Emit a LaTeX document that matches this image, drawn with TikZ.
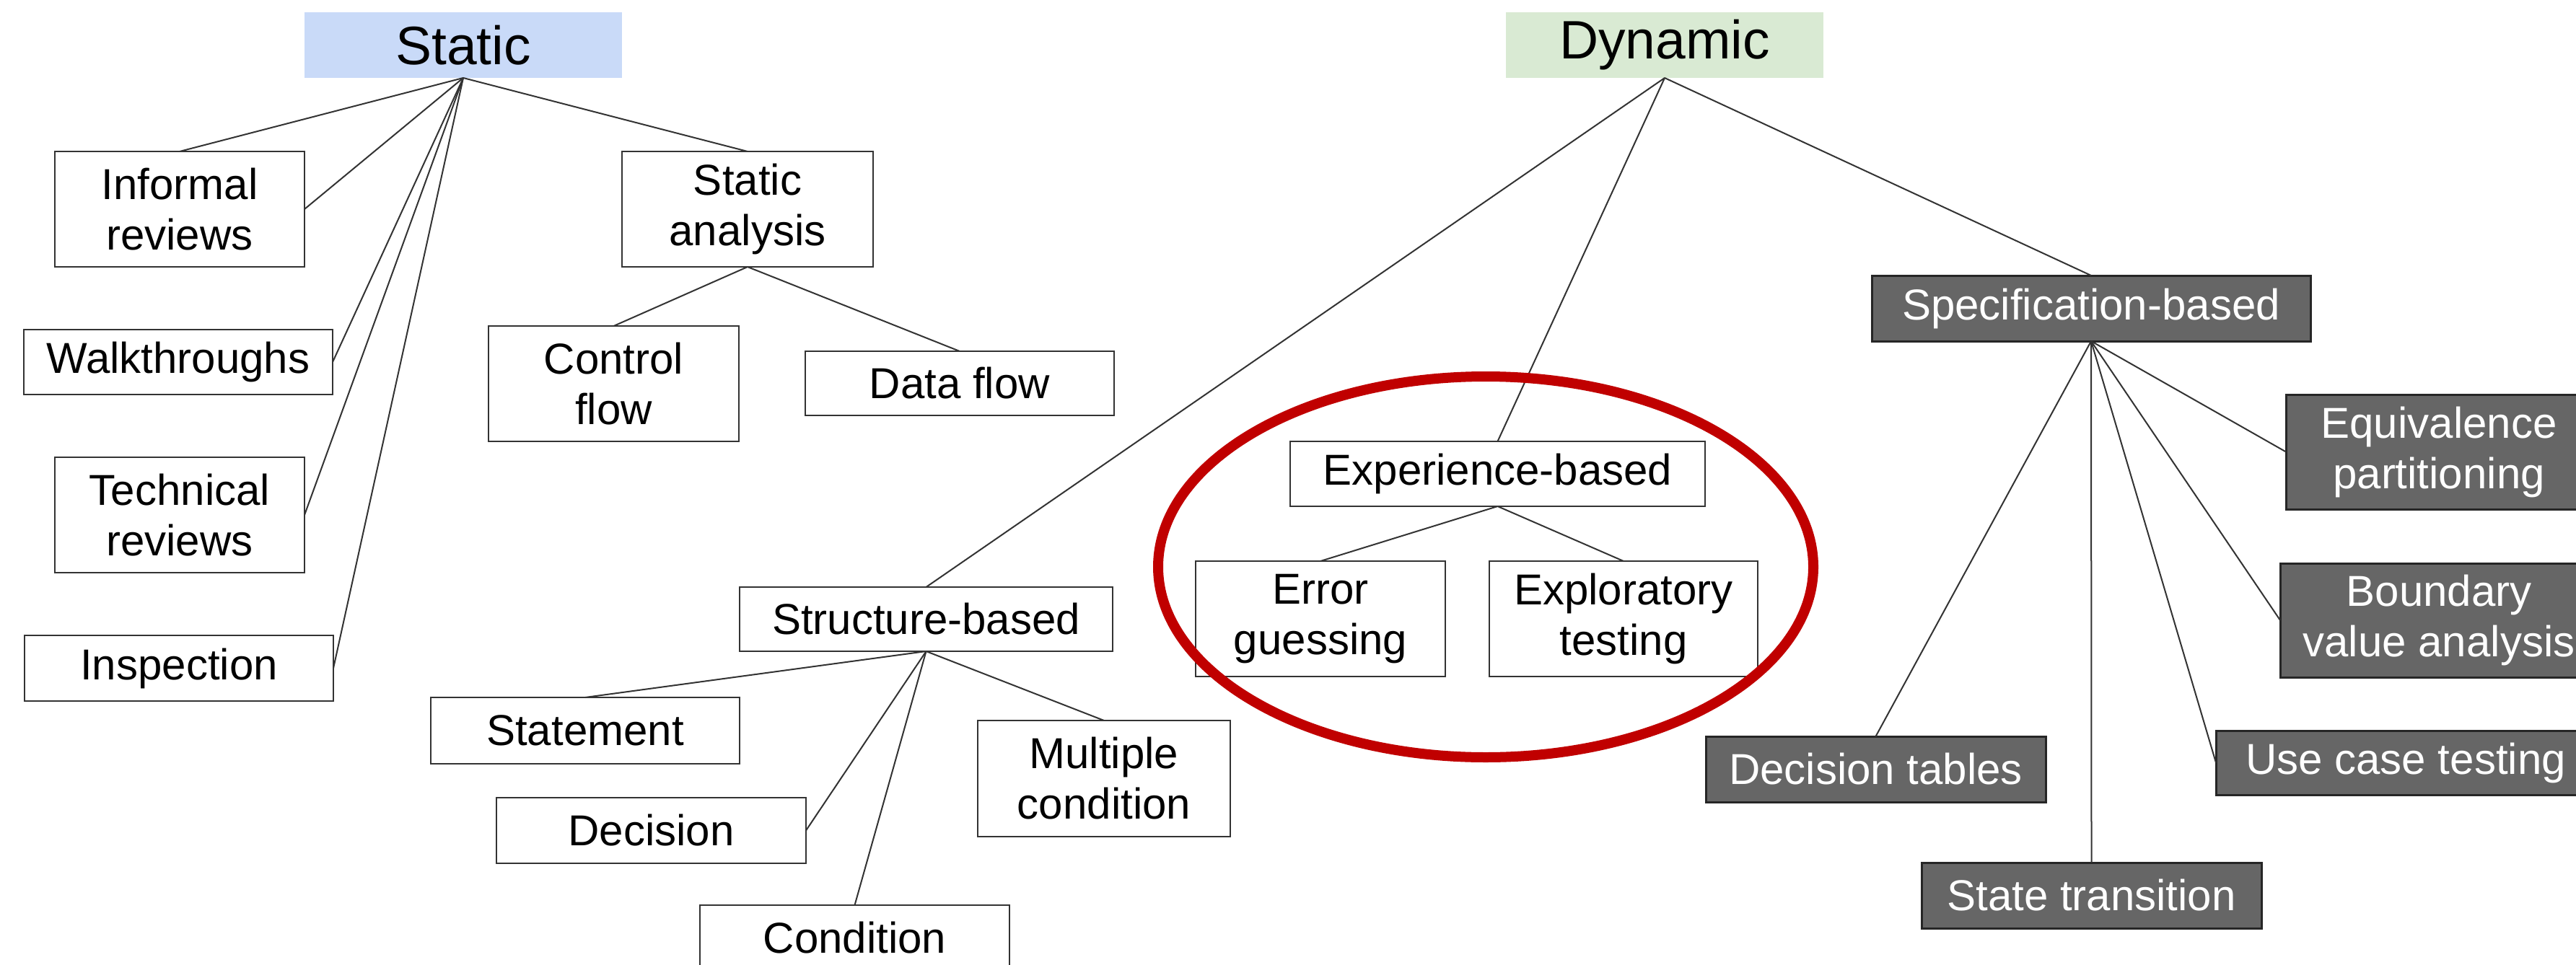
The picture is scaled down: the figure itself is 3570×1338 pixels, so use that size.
\documentclass[tikz,border=0pt]{standalone}
\usepackage{fontspec}
\setmainfont{Liberation Sans}
\definecolor{staticblue}{HTML}{C9DAF8}
\definecolor{dynamicgreen}{HTML}{D9EAD3}
\definecolor{darkbox}{HTML}{666666}
\definecolor{ringred}{HTML}{C00000}
\definecolor{linegray}{HTML}{333333}
\tikzset{
  base/.style={inner sep=0pt, outer sep=0pt, align=center,
    font=\fontsize{60}{70}\selectfont},
  title/.style={base, fill=#1, font=\fontsize{75}{86}\selectfont},
  wbox/.style={base, draw=linegray, line width=2.5pt, fill=white},
  dbox/.style={base, draw=black!85, line width=3pt, fill=darkbox, text=white},
  conn/.style={draw=linegray, line width=2pt},
  ring/.style={draw=ringred, line width=14pt}
}
\newcommand{\bx}[6]{\node[#1, minimum width=#4pt, minimum height=#5pt] (#2) at (#3) {#6};}
\begin{document}
\begin{tikzpicture}[x=1pt,y=-1pt]
\useasboundingbox (0,0) rectangle (3570,1338);
\fill[white] (0,0) rectangle (3570,1338);
% titles
\bx{title=staticblue}{static}{642,62.5}{440}{91}{Static}
\bx{title=dynamicgreen}{dynamic}{2307,62.5}{440}{91}{Dynamic}
% static side
\bx{wbox}{informal}{249,290}{346}{160}{Informal\\reviews}
\bx{wbox}{sanalysis}{1036,290}{348}{160}{Static\\analysis}
\bx{wbox}{walk}{247,502}{428}{90}{Walkthroughs}
\bx{wbox}{control}{850.5,532}{347}{160}{Control\\flow}
\bx{wbox}{dataflow}{1330,531.5}{428}{89}{Data flow}
\bx{wbox}{technical}{249,714}{346}{160}{Technical\\reviews}
\bx{wbox}{inspection}{248,926.5}{428}{91}{Inspection}
% structure-based
\bx{wbox}{structure}{1283.5,858.5}{517}{89}{Structure-based}
\bx{wbox}{statement}{811,1013}{428}{92}{Statement}
\bx{wbox}{decision}{902.5,1151.5}{429}{91}{Decision}
\bx{wbox}{multiple}{1530,1079.5}{350}{161}{Multiple\\condition}
\bx{wbox}{condition}{1184.5,1300.5}{429}{91}{Condition}
% experience-based
\bx{wbox}{experience}{2075.5,657}{575}{90}{Experience-based}
\bx{wbox}{error}{1830,858}{346}{160}{Error\\guessing}
\bx{wbox}{exploratory}{2250,858}{372}{160}{Exploratory\\testing}
% specification-based
\bx{dbox}{spec}{2898,427.5}{608}{91}{Specification-based}
\bx{dbox}{equiv}{3380,626.5}{424}{159}{Equivalence\\partitioning}
\bx{dbox}{boundary}{3380,860}{440}{158}{Boundary\\value analysis}
\bx{dbox}{usecase}{3334,1057.5}{526}{89}{Use case testing}
\bx{dbox}{dectables}{2599.5,1066.5}{471}{91}{Decision tables}
\bx{dbox}{statetrans}{2898.5,1241.5}{471}{91}{State transition}
% connectors
\draw[conn] (static.south) -- (informal.north);
\draw[conn] (static.south) -- (informal.east);
\draw[conn] (static.south) -- (walk.east);
\draw[conn] (static.south) -- (technical.east);
\draw[conn] (static.south) -- (inspection.east);
\draw[conn] (static.south) -- (sanalysis.north);
\draw[conn] (sanalysis.south) -- (control.north);
\draw[conn] (sanalysis.south) -- (dataflow.north);
\draw[conn] (dynamic.south) -- (structure.north);
\draw[conn] (dynamic.south) -- (experience.north);
\draw[conn] (dynamic.south) -- (spec.north);
\draw[conn] (structure.south) -- (statement.north);
\draw[conn] (structure.south) -- (decision.east);
\draw[conn] (structure.south) -- (condition.north);
\draw[conn] (structure.south) -- (multiple.north);
\draw[conn] (experience.south) -- (error.north);
\draw[conn] (experience.south) -- (exploratory.north);
\draw[conn] (spec.south) -- (dectables.north);
\draw[conn] (spec.south) -- (statetrans.north);
\draw[conn] (spec.south) -- (usecase.west);
\draw[conn] (spec.south) -- (boundary.west);
\draw[conn] (spec.south) -- (equiv.west);
% highlight ring
\coordinate (ringc) at (2059,786);
\draw[ring] (ringc) ellipse [x radius=454, y radius=264];
\end{tikzpicture}
\end{document}
